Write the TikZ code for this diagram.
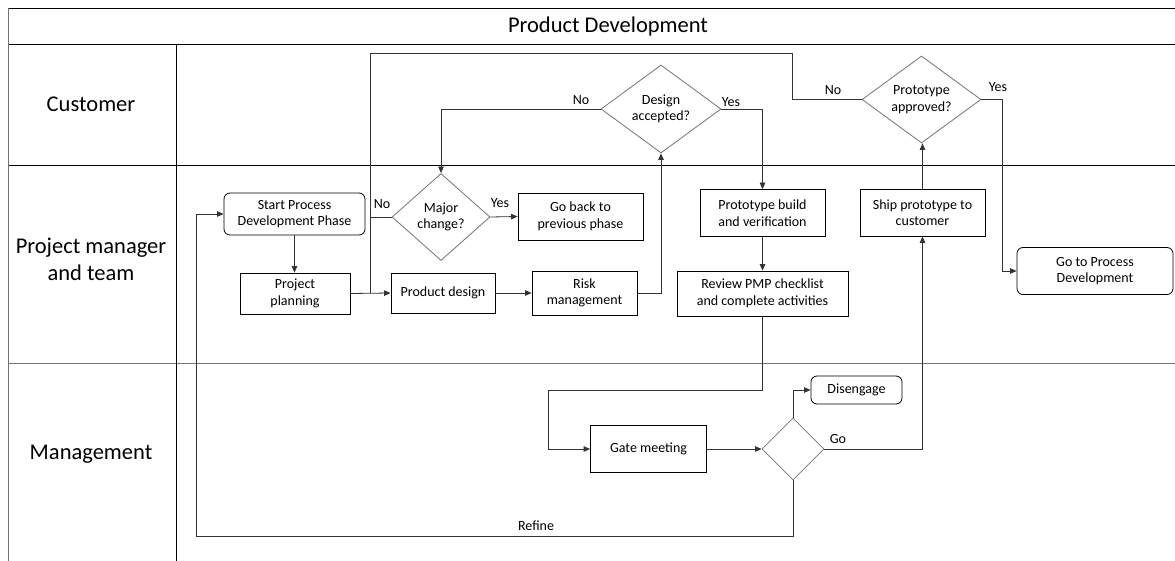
\documentclass[tikz,border=0pt]{standalone}
\usepackage{fontspec}
\setmainfont{Carlito}
\usetikzlibrary{shapes.geometric,arrows.meta}

\begin{document}
\begin{tikzpicture}[x=1pt,y=-1pt,
    font=\fontsize{14}{16.5}\selectfont,
    lane/.style={font=\fontsize{22.5}{27}\selectfont,align=center},
    box/.style={draw,line width=0.8pt,inner sep=0pt,align=center},
    term/.style={box,rounded corners=6pt},
    dec/.style={diamond,draw=black!55,line width=0.8pt,inner sep=0pt,align=center},
    conn/.style={draw=black!80,line width=0.8pt},
    arr/.style={conn,-{Triangle[length=6.5pt,width=5.5pt]}}]
        \useasboundingbox (0,0) rectangle (1175,561);
        % swimlanes
        \draw[line width=0.9pt] (8,8) -- (1175,8) (8,44) -- (1175,44) (8,165) -- (1175,165);
        \draw[black!55,line width=0.9pt] (8,363) -- (1175,363) (8,8) -- (8,561);
        \draw[line width=0.9pt] (176,44) -- (176,561);
        \node[lane] (T) at (608,27) {Product Development};
        \node[lane] (C) at (91,104) {Customer};
        \node[lane] (M) at (91,259) {Project manager\\and team};
        \node[lane] (G0) at (91,454) {Management};
        % steps
        \node[term,minimum width=141,minimum height=42] (SP) at (294.5,214) {Start Process\\Development Phase};
        \node[box,minimum width=110,minimum height=41] (PP) at (295,293.5) {Project\\planning};
        \node[dec,aspect=1.13,minimum width=98,minimum height=87] (MC) at (441,217) {Major\\change?};
        \node[box,minimum width=125,minimum height=47] (GB) at (580.5,216.5) {Go back to\\previous phase};
        \node[box,minimum width=104,minimum height=40] (PD) at (443,293) {Product design};
        \node[box,minimum width=105,minimum height=44] (RM) at (584.5,293) {Risk\\management};
        \node[dec,aspect=1.36,minimum width=120,minimum height=88] (DA) at (661,109) {Design\\accepted?};
        \node[dec,aspect=1.36,minimum width=119,minimum height=87] (PA) at (921.5,99.5) {Prototype\\approved?};
        \node[box,minimum width=125,minimum height=47] (PB) at (762.5,213) {Prototype build\\and verification};
        \node[box,minimum width=171,minimum height=45] (RV) at (762.5,293.5) {Review PMP checklist\\and complete activities};
        \node[box,minimum width=125,minimum height=47] (SH) at (922.5,212.5) {Ship prototype to\\customer};
        \node[term,minimum width=156,minimum height=47] (GP) at (1095,271) {Go to Process\\Development};
        \node[box,minimum width=116,minimum height=47] (GM) at (648.5,449) {Gate meeting};
        \node[dec,minimum size=62] (G) at (793,449) {};
        \node[term,minimum width=91,minimum height=28] (DE) at (856.5,390) {Disengage};
        % bends
        \coordinate (J) at (370,293);
        \coordinate (L1) at (370,53);
        \coordinate (L2) at (792,53);
        \coordinate (R1) at (762.5,390);
        \coordinate (R2) at (548,390);
        \coordinate (Y1) at (1002,271);
        \coordinate (F1) at (793,536);
        \coordinate (F2) at (196,536);
        % flow
        \draw[arr] (SP.south) -- (SP.south |- PP.north);
        \draw[arr] (PP.east) -- (PD.west);
        \draw[arr] (PD.east) -- (RM.west);
        \draw[conn] (MC.west) -| (J);
        \node (N1) at (382,204) {No};
        \draw[arr] (MC.east) -- (GB.west);
        \node (Y2) at (500,203) {Yes};
        \draw[arr] (RM.east) -| (DA.south);
        \draw[arr] (DA.west) -| (MC.north);
        \node (N2) at (581,100) {No};
        \draw[arr] (DA.east) -| (PB.north);
        \node (Y3) at (731,102) {Yes};
        \draw[arr] (PB) -- (RV);
        \draw[arr] (RV.south) -- (R1) -- (R2) |- (GM.west);
        \draw[arr] (GM) -- (G);
        \draw[arr] (G.north) |- (DE.west);
        \draw[arr] (G.east) -| (SH.south);
        \node (GO) at (838,439) {Go};
        \draw[arr] (SH.north) -- (SH.north |- PA.south);
        \draw[conn] (PA.west) -| (L2) -- (L1) -- (J);
        \node (N3) at (833,90) {No};
        \draw[arr] (PA.east) -| (Y1) -- (GP.west);
        \node (Y4) at (998,87) {Yes};
        \draw[arr] (G.south) -- (F1) -- (F2) |- (SP.west);
        \node (RF) at (536,526) {Refine};
\end{tikzpicture}
\end{document}
